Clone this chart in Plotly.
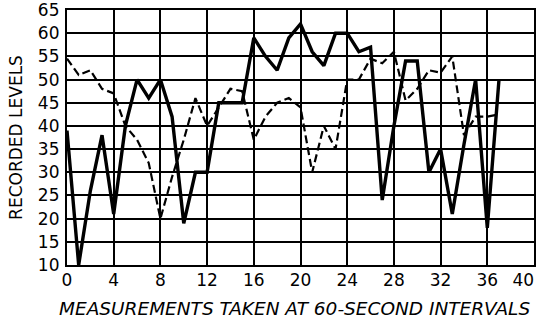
import plotly.graph_objects as go

x_vals = list(range(0, 38))
solid_levels = [39, 10, 26, 38, 21, 40, 50, 46, 50, 42,
                19, 30, 30, 45, 45, 45, 59, 55, 52, 59,
                62, 56, 53, 60, 60, 56, 57, 24, 40, 54,
                54, 30, 35, 21, 36, 50, 18, 50]
dashed_levels = [54.5, 51, 52, 48, 47, 40, 37, 32, 20, 29,
                 37, 46, 40, 44, 48, 47.5, 37, 42, 45, 46,
                 44, 30, 40, 35, 50, 50, 54.5, 53.5, 56, 45.5,
                 48, 52, 51.5, 55, 38, 42, 42, 42.5]
x_ticks = list(range(0, 41, 4))
x_tick_labels = ["0", "4", "8", "12", "16", "20", "24", "28", "32", "36",
                 "40&nbsp;&nbsp;&nbsp;&nbsp;"]
y_ticks = list(range(10, 66, 5))
x_title = "MEASUREMENTS TAKEN AT 60-SECOND INTERVALS"
y_title = "RECORDED LEVELS"

fig = go.Figure()
fig.add_trace(go.Scatter(x=x_vals, y=dashed_levels, mode="lines",
                         line=dict(color="black", width=2.2, dash="8px,4px"),
                         showlegend=False, cliponaxis=False))
fig.add_trace(go.Scatter(x=x_vals, y=solid_levels, mode="lines",
                         line=dict(color="black", width=3.4),
                         showlegend=False, cliponaxis=False))

tickfont = dict(family="DejaVu Sans", size=17, color="black")
axis_common = dict(showgrid=True, gridcolor="black", gridwidth=1.8,
                   showline=True, linecolor="black", linewidth=2.2, mirror=True,
                   zeroline=False, ticks="", tickfont=tickfont,
                   ticklabeloverflow="allow")

fig.update_xaxes(range=[0, 40], tickvals=x_ticks, ticktext=x_tick_labels,
                 ticklabelstandoff=-2, **axis_common)
fig.update_yaxes(range=[10, 65], tickvals=y_ticks, ticktext=[str(t) for t in y_ticks],
                 title=dict(text=y_title,
                            font=dict(family="DejaVu Sans", size=17, color="black"),
                            standoff=11),
                 ticklabelstandoff=2, **axis_common)

fig.add_annotation(text=x_title, xref="paper", yref="paper", x=0.488, y=-0.1706,
                   xanchor="center", yanchor="middle", showarrow=False,
                   font=dict(family="DejaVu Sans", size=18.5, color="black", style="italic"))

fig.update_layout(width=538, height=318,
                  margin=dict(l=67, r=4, t=10, b=53, autoexpand=False),
                  paper_bgcolor="white", plot_bgcolor="white")

fig.write_html("out.html",
               config={"displayModeBar": False},
               post_script="document.body.style.margin='0';document.body.style.padding='0';")
